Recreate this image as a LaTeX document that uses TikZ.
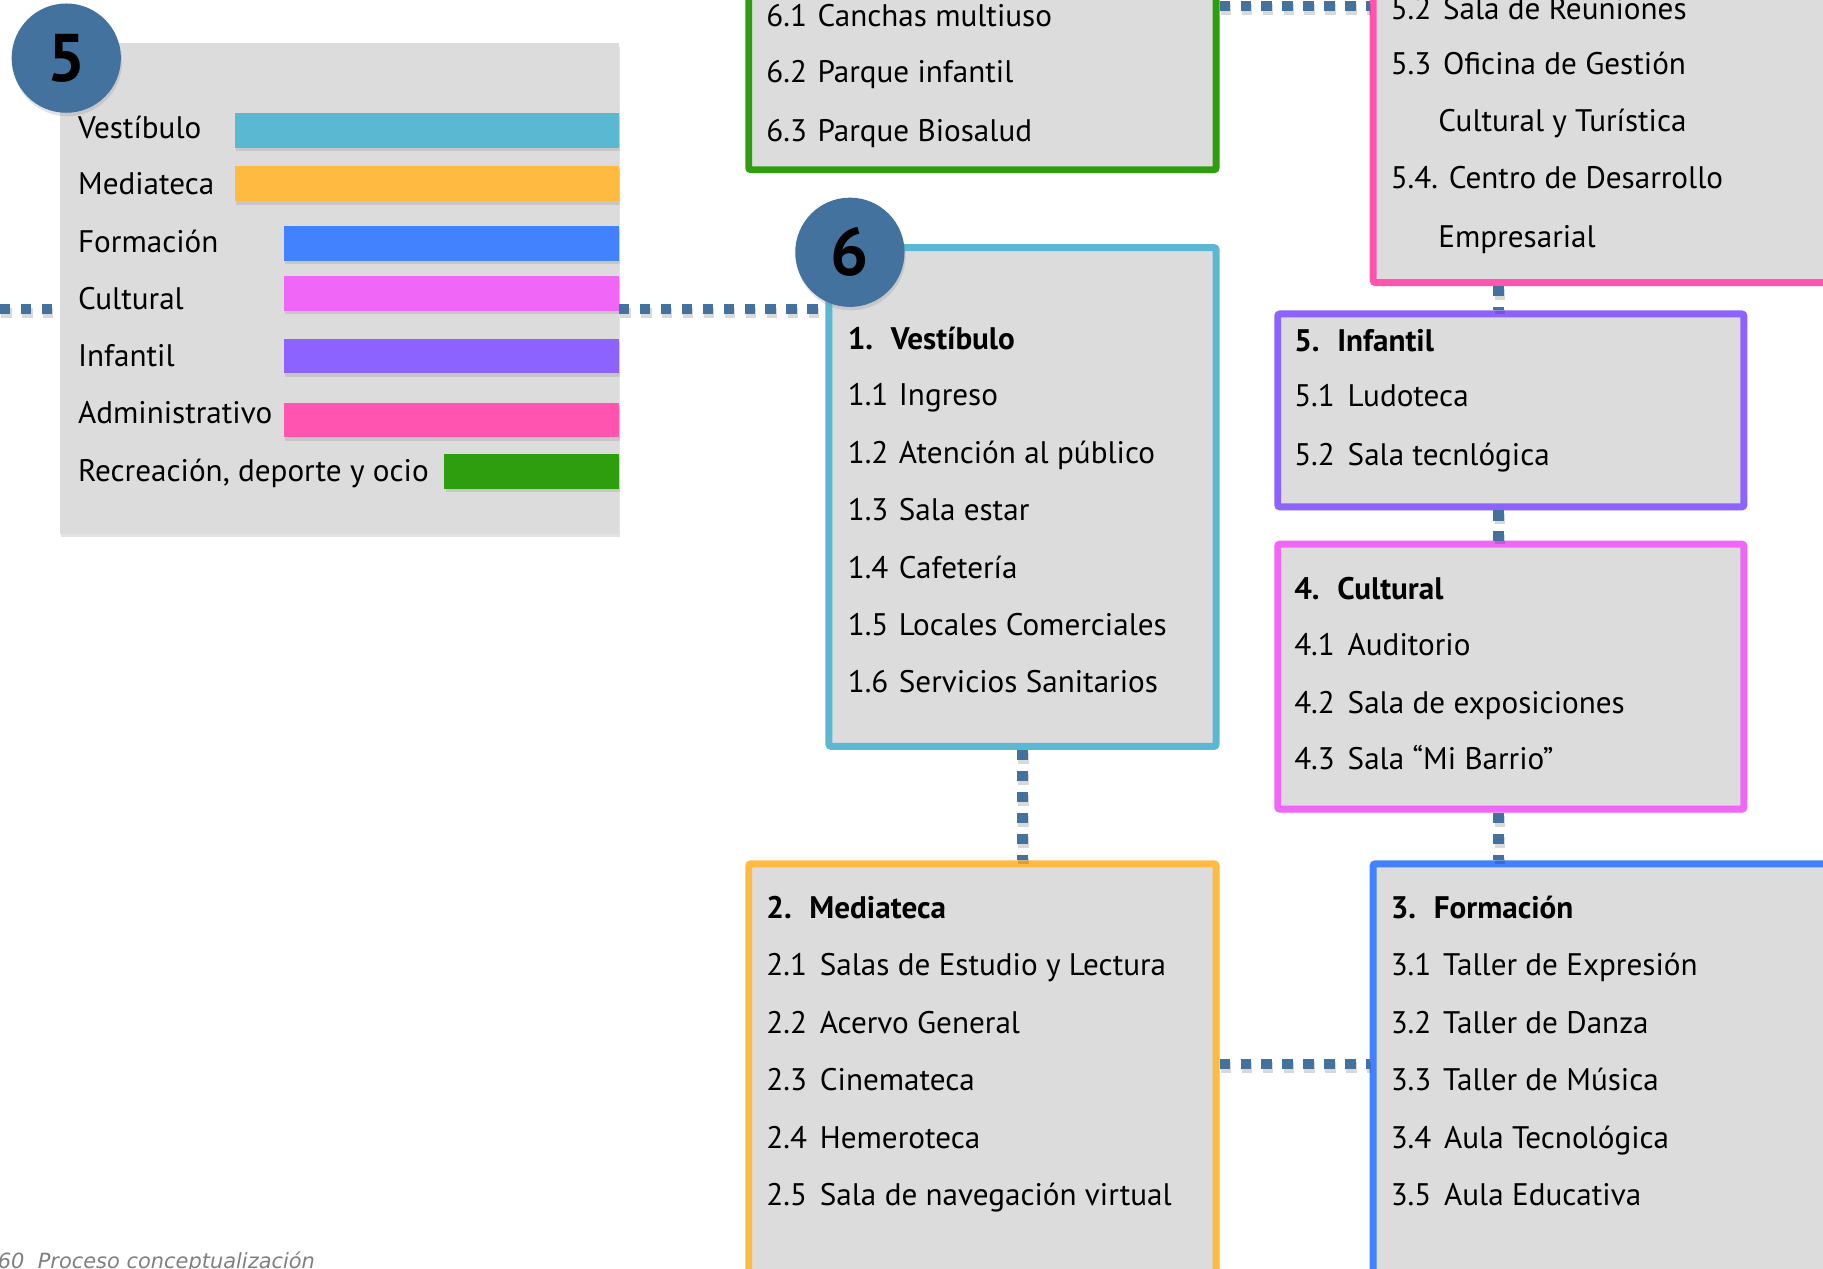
\documentclass[tikz,border=0pt]{standalone}
\usepackage{fontspec}
\setmainfont{PT Sans}
\newfontfamily\footfont{DejaVu Sans}
\usetikzlibrary{shadows}
\definecolor{panel}{HTML}{DCDCDC}
\definecolor{cblue}{HTML}{44729F}
\definecolor{cvest}{HTML}{5BB8D2}
\definecolor{cmed}{HTML}{FFBA42}
\definecolor{cform}{HTML}{4281FF}
\definecolor{ccult}{HTML}{F066F6}
\definecolor{cinf}{HTML}{8C63FF}
\definecolor{cadm}{HTML}{FF55B0}
\definecolor{crec}{HTML}{2E9E0E}
\newcommand\itm[2]{\makebox[44pt][l]{#1}#2}
\newcommand\itmw[3]{\makebox[#1][l]{#2}#3}
\newcommand\hd[2]{\textbf{\makebox[37pt][l]{#1}#2}}
\begin{document}
\begin{tikzpicture}[x=1pt,y=-1pt,
  shad/.style={drop shadow={opacity=0.22,shadow xshift=1pt,shadow yshift=-3pt}},
  box/.style={draw,line width=6pt,fill=panel,rounded corners=2pt,anchor=north west,inner sep=0pt,shad},
  panelbox/.style={fill=panel,anchor=north west,inner sep=0pt,shad},
  bar/.style={anchor=north west,inner sep=0pt,minimum height=30pt,shad},
  circ/.style={circle,fill=cblue,minimum size=94pt,inner sep=0pt,font=\bfseries\fontsize{58}{58}\selectfont,shad},
  tx/.style={anchor=base west,inner sep=0pt,font=\fontsize{26.8}{30}\selectfont},
  dots/.style={draw=cblue,line width=9pt,dash pattern=on 9pt off 9pt},
  dotsh/.style={draw=black,opacity=0.15,line width=9pt,dash pattern=on 9pt off 9pt,transform canvas={shift={(1pt,-3pt)}}}]
\clip (0,0) rectangle (1568,1091);
\fill[white] (0,0) rectangle (1568,1091);

% legend panel
\node[panelbox,minimum width=481pt,minimum height=422pt] (legend) at (51,37) {};
\node[bar,fill=cvest,minimum width=330pt] (b1) at (202,97) {};
\node[bar,fill=cmed,minimum width=330pt] (b2) at (202,143) {};
\node[bar,fill=cform,minimum width=288pt] (b3) at (244,194) {};
\node[bar,fill=ccult,minimum width=288pt] (b4) at (244,237) {};
\node[bar,fill=cinf,minimum width=288pt] (b5) at (244,291) {};
\node[bar,fill=cadm,minimum width=288pt] (b6) at (244,346) {};
\node[bar,fill=crec,minimum width=150pt] (b7) at (382,390) {};
\node[tx] (l1) at (67,119) {Vestíbulo};
\node[tx] (l2) at (67,167) {Mediateca};
\node[tx] (l3) at (67,217) {Formación};
\node[tx] (l4) at (67,266) {Cultural};
\node[tx] (l5) at (67,315) {Infantil};
\node[tx] (l6) at (67,364) {Administrativo};
\node[tx] (l7) at (67,414) {Recreación, deporte y ocio};
\node[circ] (c5) at (57,50) {5};

% boxes
\node[box,draw=crec,minimum width=402pt,minimum height=203pt] (rec) at (641,-60) {};
\node[box,draw=cadm,minimum width=460pt,minimum height=300pt] (adm) at (1178,-60) {};
\node[box,draw=cvest,minimum width=333pt,minimum height=429pt] (vest) at (710,210) {};
\node[box,draw=cinf,minimum width=401pt,minimum height=166pt] (inf) at (1096,267) {};
\node[box,draw=ccult,minimum width=401pt,minimum height=228pt] (cult) at (1096,465) {};
\node[box,draw=cmed,minimum width=402pt,minimum height=420pt] (med) at (641,740) {};
\node[box,draw=cform,minimum width=460pt,minimum height=420pt] (form) at (1178,740) {};
\node[circ] (c6) at (731,217) {6};

% recreation texts
\node[tx] (r1) at (659,23) {\itm{6.1}{Canchas multiuso}};
\node[tx] (r2) at (659,71) {\itm{6.2}{Parque infantil}};
\node[tx] (r3) at (659,122) {\itm{6.3}{Parque Biosalud}};

% admin texts
\node[tx] (a2) at (1196,17) {\itmw{45pt}{5.2}{Sala de Reuniones}};
\node[tx] (a3) at (1196,64) {\itmw{45pt}{5.3}{Oficina de Gestión}};
\node[tx] (a3b) at (1237,113) {Cultural y Turística};
\node[tx] (a4) at (1196,162) {\itmw{50pt}{5.4.}{Centro de Desarrollo}};
\node[tx] (a4b) at (1237,213) {Empresarial};

% vestibulo texts
\node[tx] (v0) at (729,301) {\hd{1.}{Vestíbulo}};
\node[tx] (v1) at (729,349) {\itm{1.1}{Ingreso}};
\node[tx] (v2) at (729,399) {\itm{1.2}{Atención al público}};
\node[tx] (v3) at (729,448) {\itm{1.3}{Sala estar}};
\node[tx] (v4) at (729,498) {\itm{1.4}{Cafetería}};
\node[tx] (v5) at (729,547) {\itm{1.5}{Locales Comerciales}};
\node[tx] (v6) at (729,596) {\itm{1.6}{Servicios Sanitarios}};

% infantil texts
\node[tx] (i0) at (1113,302) {\hd{5.}{Infantil}};
\node[tx] (i1) at (1113,350) {\itmw{46pt}{5.1}{Ludoteca}};
\node[tx] (i2) at (1113,400) {\itmw{46pt}{5.2}{Sala tecnlógica}};

% cultural texts
\node[tx] (k0) at (1113,516) {\hd{4.}{Cultural}};
\node[tx] (k1) at (1113,564) {\itmw{46pt}{4.1}{Auditorio}};
\node[tx] (k2) at (1113,614) {\itmw{46pt}{4.2}{Sala de exposiciones}};
\node[tx] (k3) at (1113,662) {\itmw{46pt}{4.3}{Sala “Mi Barrio”}};

% mediateca texts
\node[tx] (m0) at (659,790) {\hd{2.}{Mediateca}};
\node[tx] (m1) at (659,839) {\itmw{46pt}{2.1}{Salas de Estudio y Lectura}};
\node[tx] (m2) at (659,889) {\itmw{46pt}{2.2}{Acervo General}};
\node[tx] (m3) at (659,938) {\itmw{46pt}{2.3}{Cinemateca}};
\node[tx] (m4) at (659,988) {\itmw{46pt}{2.4}{Hemeroteca}};
\node[tx] (m5) at (659,1037) {\itmw{46pt}{2.5}{Sala de navegación virtual}};

% formacion texts
\node[tx] (f0) at (1196,790) {\hd{3.}{Formación}};
\node[tx] (f1) at (1196,839) {\itmw{45pt}{3.1}{Taller de Expresión}};
\node[tx] (f2) at (1196,889) {\itmw{45pt}{3.2}{Taller de Danza}};
\node[tx] (f3) at (1196,938) {\itmw{45pt}{3.3}{Taller de Música}};
\node[tx] (f4) at (1196,988) {\itmw{46pt}{3.4}{Aula Tecnológica}};
\node[tx] (f5) at (1196,1037) {\itmw{46pt}{3.5}{Aula Educativa}};

% footer
\node[anchor=base west,inner sep=0pt,text=gray,font=\footfont\itshape\fontsize{18}{20}\selectfont] (foot) at (-2,1091) {60~~Proceso conceptualización};

% connectors (shadow copies, then dots)
\coordinate (lft) at (0,266);
\foreach \st in {dotsh,dots}{
  \draw[\st] (lft) -- (lft -| legend.west);
  \draw[\st] (legend.east |- lft) -- (vest.west |- lft);
  \draw[\st] (rec.east |- 0,5) -- (adm.west |- 0,5);
  \draw[\st] (adm.south -| 1289,0) -- (inf.north -| 1289,0);
  \draw[\st] (inf.south -| 1289,0) -- (cult.north -| 1289,0);
  \draw[\st] (cult.south -| 1289,0) -- (form.north -| 1289,0);
  \draw[\st] (vest.south) -- (vest.south |- med.north);
  \draw[\st] (med.east |- 0,915) -- (form.west |- 0,915);
}
\end{tikzpicture}
\end{document}
